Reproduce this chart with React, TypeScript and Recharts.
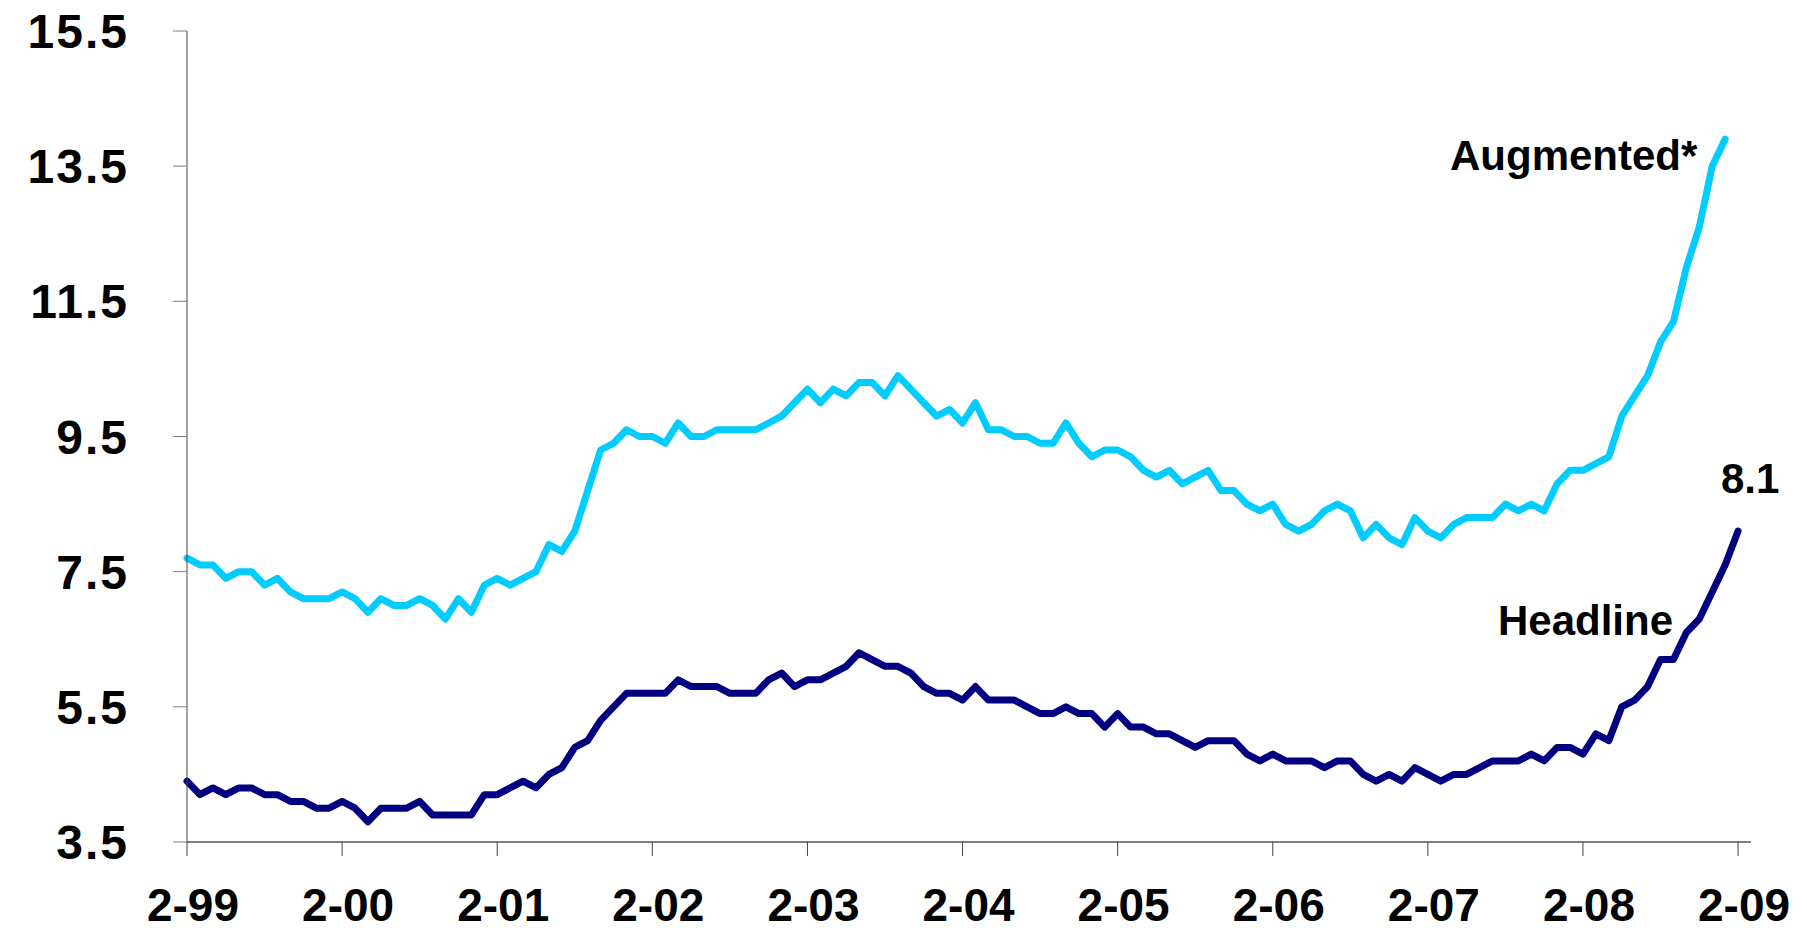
import { LineChart, Line, XAxis, YAxis, LabelList } from 'recharts'

const MONTH_LABELS = ['2-99', '2-00', '2-01', '2-02', '2-03', '2-04', '2-05', '2-06', '2-07', '2-08', '2-09']

const Y_TICKS = [3.5, 5.5, 7.5, 9.5, 11.5, 13.5, 15.5]

// monthly, Feb 1999 .. Feb 2009
const HEADLINE = [
  4.4, 4.2, 4.3, 4.2, 4.3, 4.3, 4.2, 4.2, 4.1, 4.1, 4.0, 4.0,
  4.1, 4.0, 3.8, 4.0, 4.0, 4.0, 4.1, 3.9, 3.9, 3.9, 3.9, 4.2,
  4.2, 4.3, 4.4, 4.3, 4.5, 4.6, 4.9, 5.0, 5.3, 5.5, 5.7, 5.7,
  5.7, 5.7, 5.9, 5.8, 5.8, 5.8, 5.7, 5.7, 5.7, 5.9, 6.0, 5.8,
  5.9, 5.9, 6.0, 6.1, 6.3, 6.2, 6.1, 6.1, 6.0, 5.8, 5.7, 5.7,
  5.6, 5.8, 5.6, 5.6, 5.6, 5.5, 5.4, 5.4, 5.5, 5.4, 5.4, 5.2,
  5.4, 5.2, 5.2, 5.1, 5.1, 5.0, 4.9, 5.0, 5.0, 5.0, 4.8, 4.7,
  4.8, 4.7, 4.7, 4.7, 4.6, 4.7, 4.7, 4.5, 4.4, 4.5, 4.4, 4.6,
  4.5, 4.4, 4.5, 4.5, 4.6, 4.7, 4.7, 4.7, 4.8, 4.7, 4.9, 4.9,
  4.8, 5.1, 5.0, 5.5, 5.6, 5.8, 6.2, 6.2, 6.6, 6.8, 7.2, 7.6, 8.1,
]

// monthly, Feb 1999 .. Jan 2009
const AUGMENTED = [
  7.7, 7.6, 7.6, 7.4, 7.5, 7.5, 7.3, 7.4, 7.2, 7.1, 7.1, 7.1,
  7.2, 7.1, 6.9, 7.1, 7.0, 7.0, 7.1, 7.0, 6.8, 7.1, 6.9, 7.3,
  7.4, 7.3, 7.4, 7.5, 7.9, 7.8, 8.1, 8.7, 9.3, 9.4, 9.6, 9.5,
  9.5, 9.4, 9.7, 9.5, 9.5, 9.6, 9.6, 9.6, 9.6, 9.7, 9.8, 10.0,
  10.2, 10.0, 10.2, 10.1, 10.3, 10.3, 10.1, 10.4, 10.2, 10.0, 9.8, 9.9,
  9.7, 10.0, 9.6, 9.6, 9.5, 9.5, 9.4, 9.4, 9.7, 9.4, 9.2, 9.3,
  9.3, 9.2, 9.0, 8.9, 9.0, 8.8, 8.9, 9.0, 8.7, 8.7, 8.5, 8.4,
  8.5, 8.2, 8.1, 8.2, 8.4, 8.5, 8.4, 8.0, 8.2, 8.0, 7.9, 8.3,
  8.1, 8.0, 8.2, 8.3, 8.3, 8.3, 8.5, 8.4, 8.5, 8.4, 8.8, 9.0,
  9.0, 9.1, 9.2, 9.8, 10.1, 10.4, 10.9, 11.2, 12.0, 12.6, 13.5, 13.9,
]

const FONT = '"Liberation Sans", Arial, Helvetica, sans-serif'
const AXIS_GREY = '#7f7f7f'

const data = HEADLINE.map((h, i) => ({
  m: i,
  headline: h,
  augmented: i < AUGMENTED.length ? AUGMENTED[i] : null,
}))

const xTicks = MONTH_LABELS.map((_, i) => i * 12)

function MonthTick(props: any) {
  const { x, y, payload } = props
  return (
    <text x={x + 6} y={y} dy="0.71em" textAnchor="middle" fontFamily={FONT} fontWeight="bold" fontSize={46} fill="#000">
      {MONTH_LABELS[payload.value / 12]}
    </text>
  )
}

function RateTick(props: any) {
  const { x, y, payload } = props
  return (
    <text x={x} y={y} dy="0.355em" textAnchor="end" fontFamily={FONT} fontWeight="bold" fontSize={48} letterSpacing={2} fill="#000">
      {payload.value}
    </text>
  )
}

function LastValueLabel(props: any) {
  const { x, y, index, value } = props
  if (index !== HEADLINE.length - 1) return null
  return (
    <text x={x + 12} y={y - 38} textAnchor="middle" fontFamily={FONT} fontWeight="bold" fontSize={42} fill="#000">
      {value}
    </text>
  )
}

export default function App() {
  return (
    <div style={{ position: 'absolute', left: 0, top: 0, width: 1807, height: 930, background: '#fff' }}>
      <LineChart width={1807} height={930} data={data} margin={{ top: 31, right: 56, left: 0, bottom: 0 }}>
        <XAxis
          type="number"
          dataKey="m"
          domain={[0, 121]}
          ticks={xTicks}
          height={88}
          tickSize={14}
          tickMargin={32}
          axisLine={{ stroke: AXIS_GREY, strokeWidth: 2 }}
          tickLine={{ stroke: '#444' }}
          tick={<MonthTick />}
          interval={0}
        />
        <YAxis
          type="number"
          domain={[3.5, 15.5]}
          ticks={Y_TICKS}
          width={187}
          tickSize={14}
          tickMargin={44}
          axisLine={{ stroke: '#444' }}
          tickLine={{ stroke: AXIS_GREY }}
          tick={<RateTick />}
          interval={0}
        />
        <Line
          type="linear"
          dataKey="augmented"
          stroke="#00ccff"
          strokeWidth={7}
          strokeLinejoin="round"
          strokeLinecap="round"
          dot={false}
          activeDot={false}
          isAnimationActive={false}
        />
        <Line
          type="linear"
          dataKey="headline"
          stroke="#000080"
          strokeWidth={7}
          strokeLinejoin="round"
          strokeLinecap="round"
          dot={false}
          activeDot={false}
          isAnimationActive={false}
        >
          <LabelList dataKey="headline" content={LastValueLabel} />
        </Line>
        <text x={1450} y={170} fontFamily={FONT} fontWeight="bold" fontSize={42} fill="#000">
          Augmented*
        </text>
        <text x={1498} y={635} fontFamily={FONT} fontWeight="bold" fontSize={42} fill="#000">
          Headline
        </text>
      </LineChart>
    </div>
  )
}
